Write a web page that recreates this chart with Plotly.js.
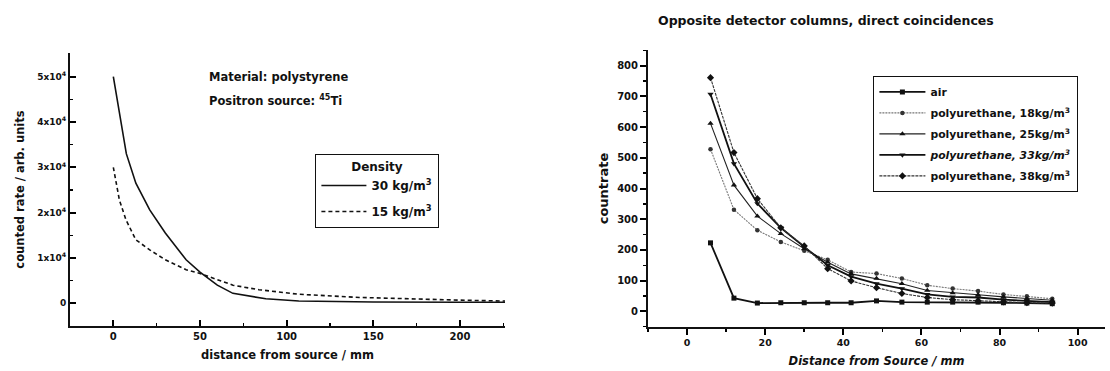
<!DOCTYPE html>
<html><head><meta charset="utf-8">
<script src="https://cdn.plot.ly/plotly-3.0.1.min.js"></script>
<style>html,body{margin:0;padding:0;background:#fff}#chart{width:1110px;height:371px}</style>
</head><body><div id="chart"></div>
<script>
// Left chart: polystyrene
const distA = [0, 4, 7.5, 13, 21, 30, 42, 50, 60, 69, 88, 107, 150, 200, 226];
const rate30 = [50000, 41000, 33000, 26500, 20600, 15500, 9600, 6900, 4000, 2200, 1000, 500, 300, 250, 250];
const distB = [0, 3.5, 7.3, 13, 21, 30, 42, 50, 69, 84, 107, 142, 200, 226];
const rate15 = [30000, 22800, 18400, 14000, 11800, 9600, 7400, 6600, 4000, 3000, 2000, 1300, 700, 500];
const leftYTicks = [0, 10000, 20000, 30000, 40000, 50000];
const leftYText = ['0', '1x10<sup>4</sup>', '2x10<sup>4</sup>', '3x10<sup>4</sup>', '4x10<sup>4</sup>', '5x10<sup>4</sup>'];

// Right chart: countrate vs distance
const dist = [6, 12, 18, 24, 30, 36, 42, 48.5, 55, 61.5, 68, 74.5, 81, 87, 93.5];
const air = [223, 43, 27, 28, 28, 28, 28, 34, 30, 30, 30, 30, 28, 27, 25];
const pu18 = [528, 331, 264, 226, 197, 168, 128, 123, 107, 85, 74, 66, 55, 49, 41];
const pu25 = [612, 411, 310, 253, 204, 160, 122, 107, 90, 68, 60, 54, 47, 41, 36];
const pu33 = [707, 481, 351, 272, 210, 150, 113, 90, 74, 55, 47, 45, 38, 34, 30];
const pu38 = [761, 517, 367, 272, 213, 139, 99, 77, 58, 45, 38, 34, 31, 28, 27];

const F = '"DejaVu Sans", sans-serif';
const ink = '#111';
const B = 'bold';

const data = [
  {x: distA, y: rate30, type: 'scatter', mode: 'lines', name: '30 kg/m<sup>3</sup>', legendgroup: 'a',
   line: {color: ink, width: 1.6}, xaxis: 'x', yaxis: 'y', legend: 'legend'},
  {x: distB, y: rate15, type: 'scatter', mode: 'lines', name: '15 kg/m<sup>3</sup>', legendgroup: 'b',
   line: {color: ink, width: 1.6, dash: '4px,3px'}, xaxis: 'x', yaxis: 'y', legend: 'legend'},
  {x: dist, y: air, type: 'scatter', mode: 'lines+markers', name: 'air', legendgroup: 'c',
   line: {color: ink, width: 1.8}, marker: {symbol: 'square', size: 5, color: ink},
   xaxis: 'x2', yaxis: 'y2', legend: 'legend2'},
  {x: dist, y: pu18, type: 'scatter', mode: 'lines+markers', name: 'polyurethane, 18kg/m<sup>3</sup>', legendgroup: 'd',
   line: {color: '#777', width: 1.1, dash: '2px,1px'}, marker: {symbol: 'circle', size: 4.5, color: '#333'},
   xaxis: 'x2', yaxis: 'y2', legend: 'legend2'},
  {x: dist, y: pu25, type: 'scatter', mode: 'lines+markers', name: 'polyurethane, 25kg/m<sup>3</sup>', legendgroup: 'e',
   line: {color: '#222', width: 1.1}, marker: {symbol: 'triangle-up', size: 5.5, color: ink},
   xaxis: 'x2', yaxis: 'y2', legend: 'legend2'},
  {x: dist, y: pu33, type: 'scatter', mode: 'lines+markers', name: '<i>polyurethane, 33kg/m<sup>3</sup></i>', legendgroup: 'f',
   line: {color: ink, width: 1.8}, marker: {symbol: 'triangle-down', size: 5.5, color: ink},
   xaxis: 'x2', yaxis: 'y2', legend: 'legend2'},
  {x: dist, y: pu38, type: 'scatter', mode: 'lines+markers', name: 'polyurethane, 38kg/m<sup>3</sup>', legendgroup: 'g',
   line: {color: '#333', width: 1.1, dash: '3px,1px'}, marker: {symbol: 'diamond', size: 5.5, color: ink},
   xaxis: 'x2', yaxis: 'y2', legend: 'legend2'}
];

const layout = {
  width: 1110, height: 371,
  margin: {l: 0, r: 0, t: 0, b: 0},
  paper_bgcolor: '#fff', plot_bgcolor: '#fff',
  font: {family: F, color: ink, size: 10, weight: B},
  xaxis: {
    domain: [70/1110, 505/1110], range: [-25, 226], anchor: 'y',
    showline: true, linecolor: ink, linewidth: 2, showgrid: false, zeroline: false,
    ticks: 'inside', ticklen: 6, tickwidth: 2, tickcolor: '#000', tickmode: 'linear', dtick: 50, tick0: 0,
    minor: {ticks: 'inside', ticklen: 3, tickwidth: 1.5, tickcolor: '#000', dtick: 25, tick0: 0},
    tickfont: {size: 10, family: F, weight: B},
    title: {text: 'distance from source / mm', font: {size: 11.5, family: F, weight: B}, standoff: 10}
  },
  yaxis: {
    domain: [45/371, 318/371], range: [-5000, 55200], anchor: 'x',
    showline: true, linecolor: ink, linewidth: 2, showgrid: false, zeroline: false,
    ticks: 'inside', ticklen: 6, tickwidth: 2, tickcolor: '#000',
    tickmode: 'array', tickvals: leftYTicks, ticktext: leftYText,
    minor: {ticks: 'inside', ticklen: 3, tickwidth: 1.5, tickcolor: '#000', dtick: 5000, tick0: 0},
    tickfont: {size: 9, family: F, weight: B},
    title: {text: 'counted rate / arb. units', font: {size: 11.5, family: F, weight: B}, standoff: 10}
  },
  xaxis2: {
    domain: [648/1110, 1105/1110], range: [-10, 107], anchor: 'y2',
    showline: true, linecolor: ink, linewidth: 2, showgrid: false, zeroline: false,
    ticks: 'outside', ticklen: 6, tickwidth: 2, tickcolor: '#000', tickmode: 'linear', dtick: 20, tick0: 0,
    minor: {ticks: 'outside', ticklen: 3, tickwidth: 1.5, tickcolor: '#000', dtick: 10, tick0: 0},
    tickfont: {size: 9.5, family: F, weight: B},
    title: {text: '<i>Distance from Source / mm</i>', font: {size: 11.5, family: F, weight: B}, standoff: 10}
  },
  yaxis2: {
    domain: [44/371, 321/371], range: [-51, 851], anchor: 'x2',
    showline: true, linecolor: ink, linewidth: 2, showgrid: false, zeroline: false,
    ticks: 'outside', ticklen: 6, tickwidth: 2, tickcolor: '#000', tickmode: 'linear', dtick: 100, tick0: 0,
    minor: {ticks: 'outside', ticklen: 3, tickwidth: 1.5, tickcolor: '#000', dtick: 50, tick0: 0},
    tickfont: {size: 10, family: F, weight: B},
    title: {text: 'countrate', font: {size: 13, family: F, weight: B}, standoff: 6}
  },
  legend: {
    x: 315/1110, y: (371-154)/371, xanchor: 'left', yanchor: 'top',
    bordercolor: ink, borderwidth: 1.4, bgcolor: '#fff', itemwidth: 45,
    font: {size: 12, family: F, weight: B}, tracegroupgap: 7,
    title: {text: 'Density', side: 'top center', font: {size: 12, family: F, weight: B}}
  },
  legend2: {
    x: 873/1110, y: (371-76)/371, xanchor: 'left', yanchor: 'top',
    bordercolor: ink, borderwidth: 1.4, bgcolor: '#fff', itemwidth: 46,
    font: {size: 10.8, family: F, weight: B}, tracegroupgap: 2
  },
  annotations: [
    {text: 'Material: polystyrene', xref: 'paper', yref: 'paper', x: 207/1110, y: (371-77)/371,
     xanchor: 'left', yanchor: 'middle', showarrow: false, font: {size: 11.5, family: F, weight: B}},
    {text: 'Positron source: <sup>45</sup>Ti', xref: 'paper', yref: 'paper', x: 207/1110, y: (371-101)/371,
     xanchor: 'left', yanchor: 'middle', showarrow: false, font: {size: 11.5, family: F, weight: B}},
    {text: 'Opposite detector columns, direct coincidences', xref: 'paper', yref: 'paper',
     x: 656/1110, y: (371-20)/371, xanchor: 'left', yanchor: 'middle', showarrow: false,
     font: {size: 12.5, family: F, weight: B}}
  ],
  showlegend: true
};

Plotly.newPlot('chart', data, layout, {staticPlot: true, displayModeBar: false});
</script>
</body></html>
